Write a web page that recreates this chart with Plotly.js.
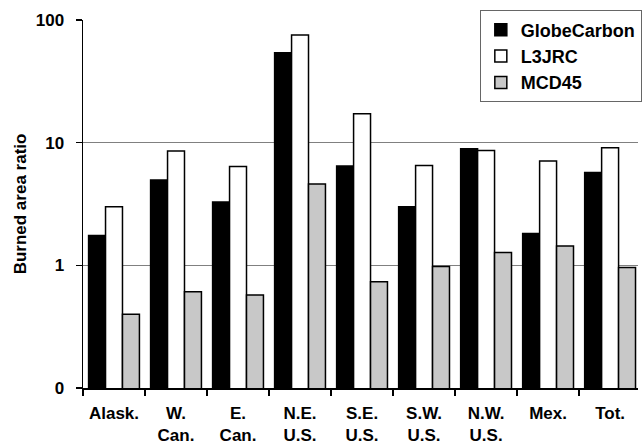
<!DOCTYPE html>
<html>
<head>
<meta charset="utf-8">
<script src="https://cdn.plot.ly/plotly-3.0.1.min.js"></script>
<style>html,body{margin:0;padding:0;background:#fff;}#chart{width:642px;height:447px;}</style>
</head>
<body>
<div id="chart"></div>
<script>
const categories = ["Alask.", "W.<br>Can.", "E.<br>Can.", "N.E.<br>U.S.", "S.E.<br>U.S.", "S.W.<br>U.S.", "N.W.<br>U.S.", "Mex.", "Tot."];
const globeCarbon = [1.75, 4.96, 3.28, 54, 6.45, 3.0, 8.9, 1.82, 5.72];
const l3jrc = [3.0, 8.54, 6.4, 75.6, 17.2, 6.52, 8.64, 7.08, 9.09];
const mcd45 = [0.40, 0.61, 0.574, 4.6, 0.736, 0.98, 1.27, 1.44, 0.96];
const yTickVals = [0.1, 1, 10, 100];
const yTickText = ["0", "1", "10", "100"];

const fam = "Liberation Sans, Arial, sans-serif";
const lineStyle = {color: "#000", width: 1.5};

const data = [
  {type: "bar", name: "GlobeCarbon", x: categories, y: globeCarbon, marker: {color: "#000000", line: lineStyle}},
  {type: "bar", name: "L3JRC", x: categories, y: l3jrc, marker: {color: "#ffffff", line: lineStyle}},
  {type: "bar", name: "MCD45", x: categories, y: mcd45, marker: {color: "#c8c8c8", line: lineStyle}}
];

const layout = {
  width: 642, height: 447,
  margin: {l: 83, r: 0, t: 20, b: 59, pad: 0},
  paper_bgcolor: "#fff", plot_bgcolor: "#fff",
  font: {family: fam, size: 17, color: "#000"},
  barmode: "group", bargap: 0.18, bargroupgap: 0,
  showlegend: true,
  legend: {
    x: 0.715, y: 1.026, xanchor: "left", yanchor: "top",
    bgcolor: "#fff", bordercolor: "#666", borderwidth: 1,
    font: {family: fam, size: 18, color: "#000", weight: "bold"},
    tracegroupgap: 0, itemwidth: 30
  },
  xaxis: {
    type: "category", range: [-0.5, 8.45],
    showline: true, linecolor: "#000", linewidth: 1.5,
    ticks: "outside", tickson: "boundaries", ticklen: 6, tickcolor: "#000", tickwidth: 1.5,
    showgrid: false, zeroline: false,
    ticklabelstandoff: 9,
    tickfont: {family: fam, size: 17, color: "#000", weight: "bold"},
    tickangle: 0
  },
  yaxis: {
    type: "log", range: [-1, 2],
    tickvals: yTickVals, ticktext: yTickText,
    showline: true, linecolor: "#000", linewidth: 1.5,
    ticks: "outside", ticklen: 6, tickcolor: "#000", tickwidth: 1.5,
    ticklabelstandoff: 8,
    showgrid: true, gridcolor: "#808080", gridwidth: 1,
    zeroline: false,
    tickfont: {family: fam, size: 17, color: "#000", weight: "bold"},
    title: {text: "Burned area ratio", font: {family: fam, size: 17, color: "#000", weight: "bold"}, standoff: 5}
  }
};

Plotly.newPlot("chart", data, layout, {displayModeBar: false, staticPlot: true});
</script>
</body>
</html>
